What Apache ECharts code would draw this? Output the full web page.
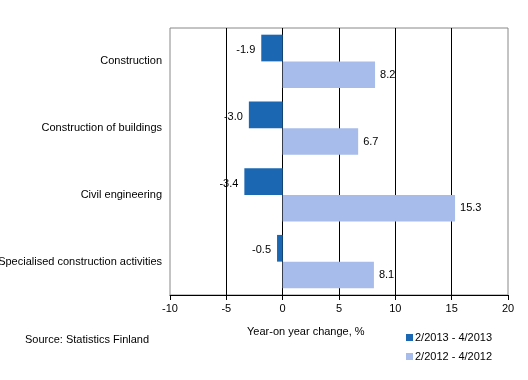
<!DOCTYPE html>
<html><head><meta charset="utf-8">
<script src="https://cdn.jsdelivr.net/npm/echarts@6/dist/echarts.min.js"></script>
<style>html,body{margin:0;padding:0;background:#fff}#c{width:528px;height:380px}</style>
</head><body><div id="c"></div>
<script>
const categories = ["Construction", "Construction of buildings", "Civil engineering", "Specialised construction activities"];
const series2013 = [-1.9, -3.0, -3.4, -0.5];
const series2012 = [8.2, 6.7, 15.3, 8.1];
const seriesNames = ["2/2013 - 4/2013", "2/2012 - 4/2012"];
const xTicks = [-10, -5, 0, 5, 10, 15, 20];

const font = "Liberation Sans, Arial, sans-serif";
const chart = echarts.init(document.getElementById('c'));
chart.setOption({
  animation: false,
  textStyle: {fontFamily: font},
  grid: {left: 170, right: 20, top: 28, bottom: 85, show: true, borderColor: '#888', borderWidth: 1, containLabel: false, outerBoundsMode: 'none'},
  xAxis: {
    type: 'value', min: xTicks[0], max: xTicks[xTicks.length-1], interval: 5,
    axisLine: {show: true, lineStyle: {color: '#000'}},
    axisTick: {show: true, length: 5, lineStyle: {color: '#000'}},
    axisLabel: {color: '#000', fontSize: 11, fontFamily: font, margin: 8},
    splitLine: {show: true, showMinLine: false, showMaxLine: false, lineStyle: {color: '#000', width: 1}}
  },
  yAxis: {
    type: 'category', data: categories, inverse: true,
    axisLine: {show: false}, axisTick: {show: false},
    axisLabel: {color: '#000', fontSize: 11, fontFamily: font, margin: 8}
  },
  legend: {
    left: 406, top: 332, padding: 0, orient: 'vertical', itemWidth: 7, itemHeight: 7, itemGap: 8,
    icon: 'rect', textStyle: {fontSize: 11, color: '#000', fontFamily: font, padding: [0,0,0,-3]},
    data: seriesNames
  },
  graphic: [
    {type: 'text', left: 247, top: 326, style: {text: 'Year-on year change, %', font: '11px ' + font, fill: '#000'}},
    {type: 'text', left: 25, top: 334, style: {text: 'Source: Statistics Finland', font: '11px ' + font, fill: '#000'}}
  ],
  series: [
    {name: seriesNames[0], type: 'bar', data: series2013, barGap: '0%', barCategoryGap: '20%',
     itemStyle: {color: '#1C67B2'},
     label: {show: true, position: 'left', distance: 6, offset: [0, 2], color: '#000', fontSize: 11, fontFamily: font,
       formatter: p => p.value.toFixed(1)}},
    {name: seriesNames[1], type: 'bar', data: series2012, barGap: '0%', barCategoryGap: '20%',
     itemStyle: {color: '#A7BCEA'},
     label: {show: true, position: 'right', distance: 5, color: '#000', fontSize: 11, fontFamily: font,
       formatter: p => p.value.toFixed(1)}}
  ]
});
</script></body></html>
